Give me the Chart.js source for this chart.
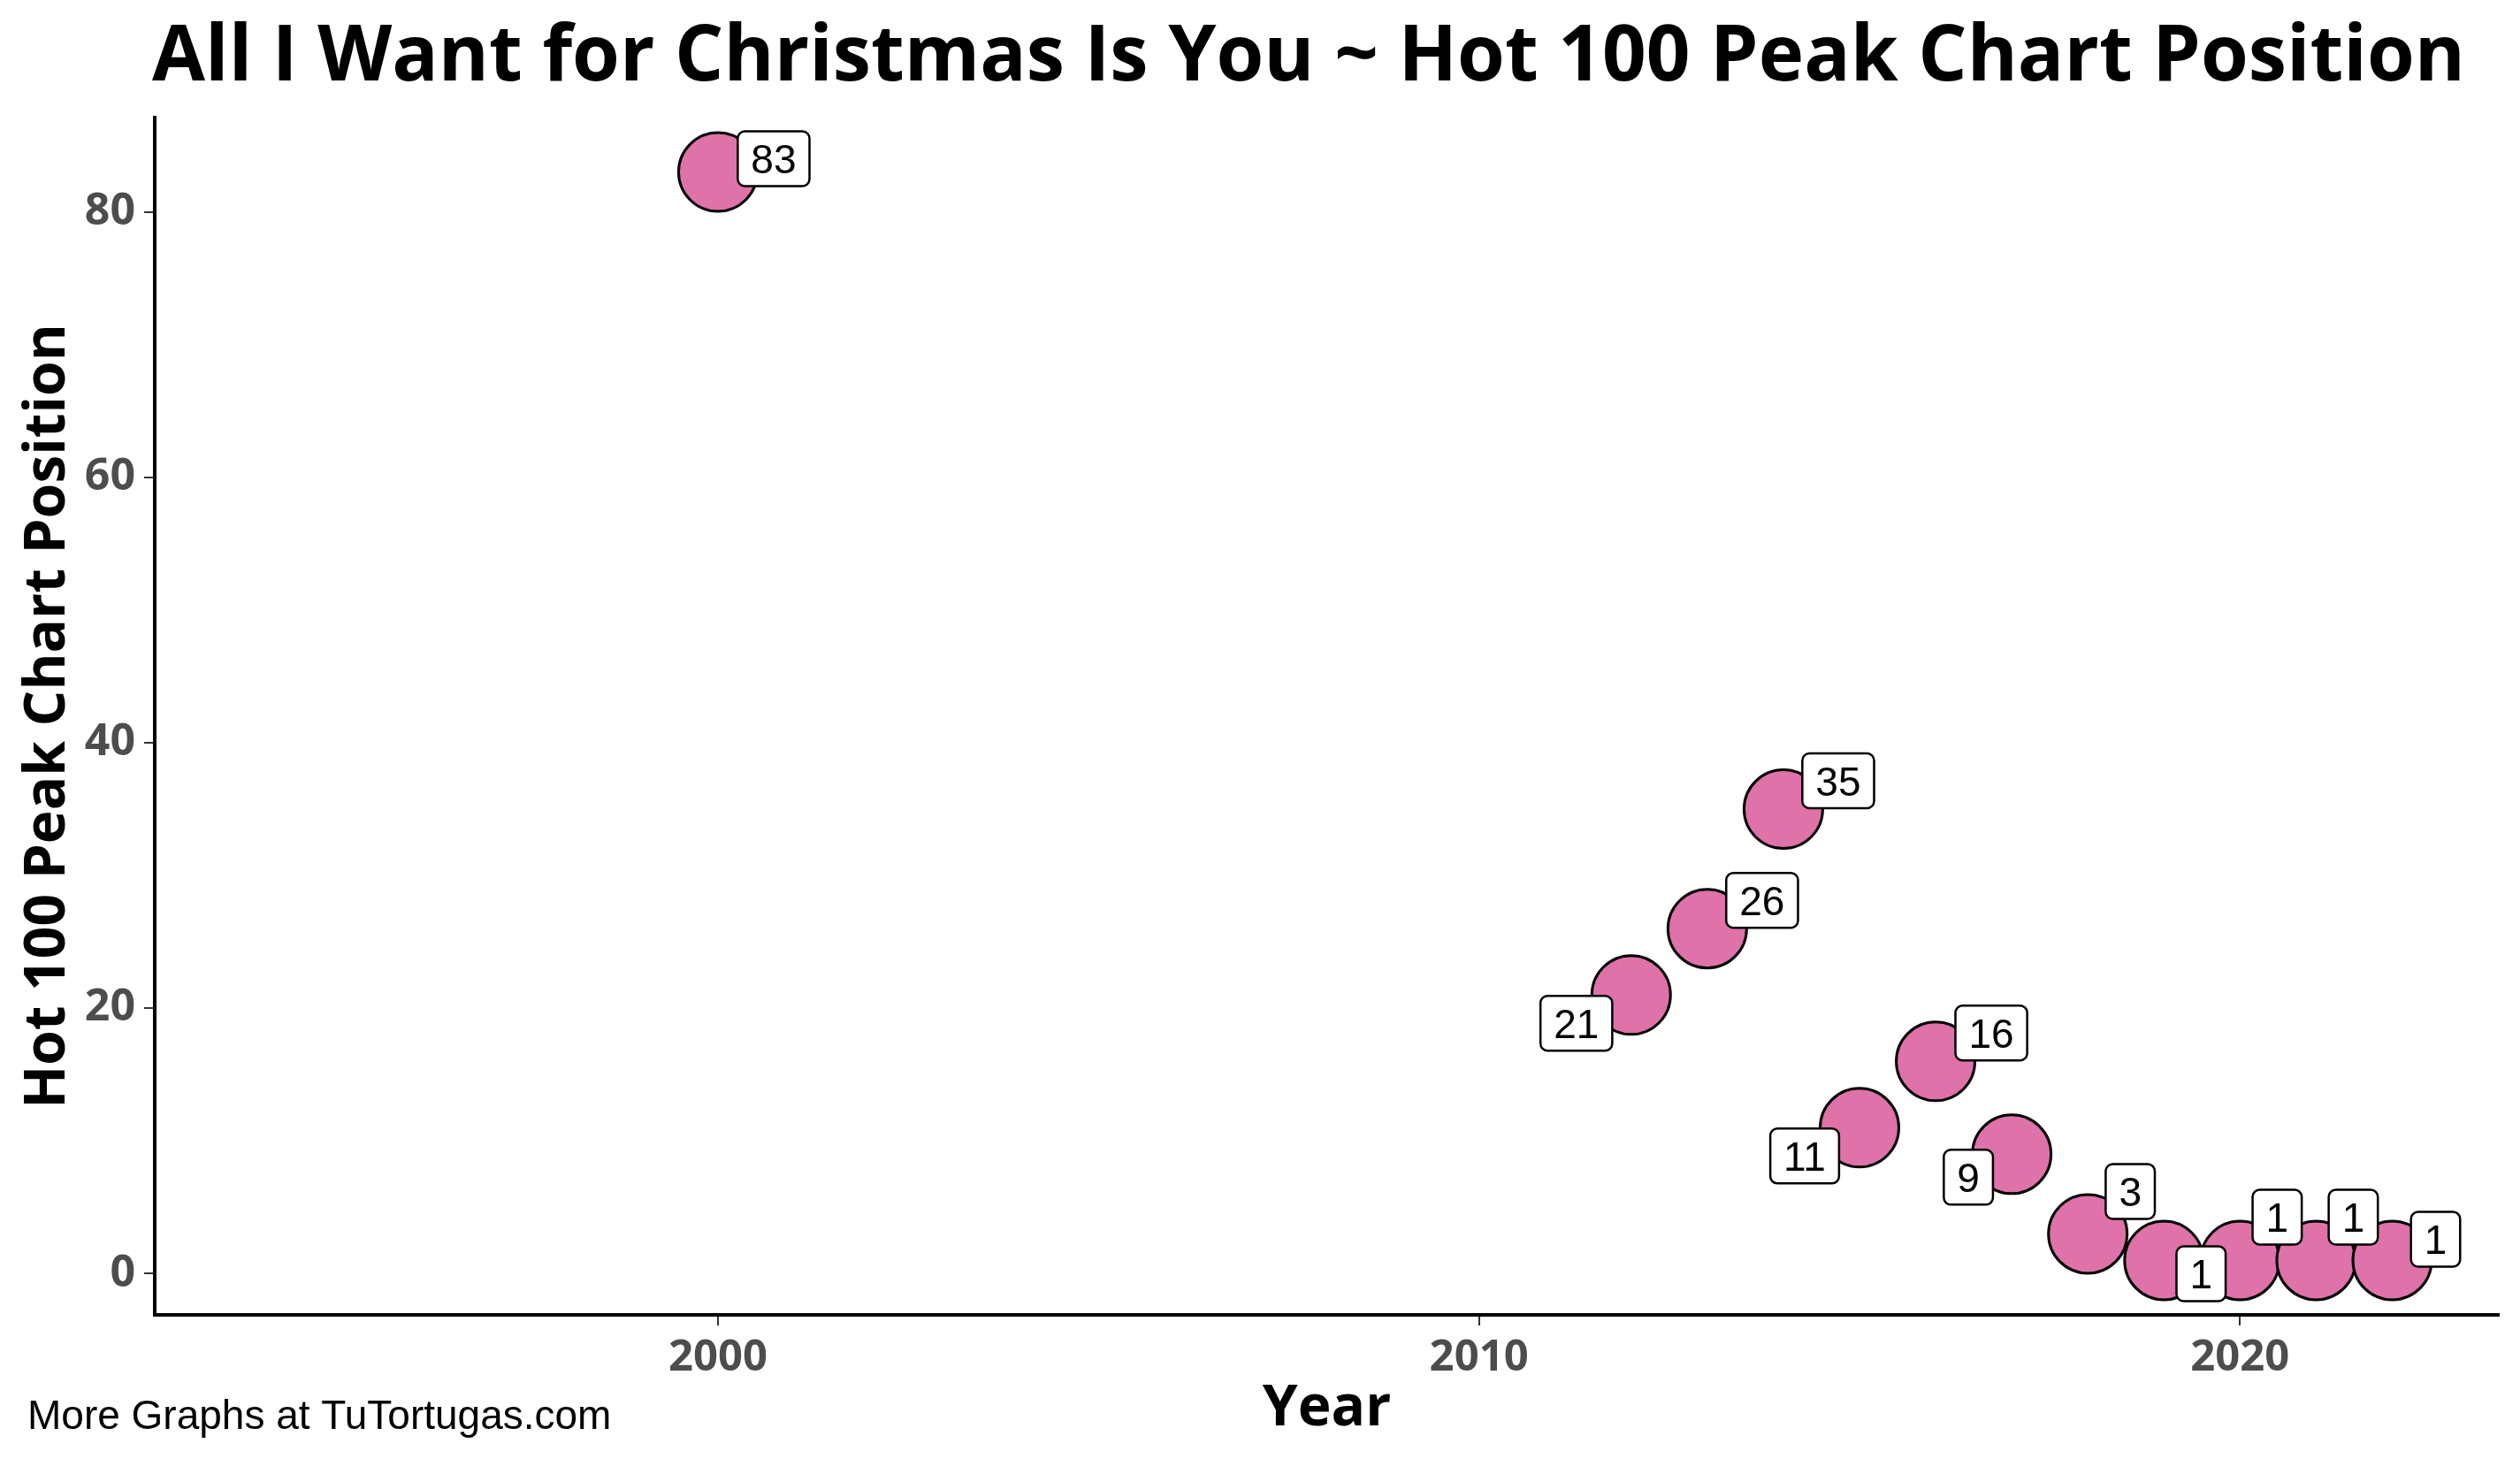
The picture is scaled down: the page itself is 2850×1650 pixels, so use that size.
<!DOCTYPE html>
<html>
<head>
<meta charset="utf-8">
<title>All I Want for Christmas Is You ~ Hot 100 Peak Chart Position</title>
<script src="https://cdn.jsdelivr.net/npm/chart.js@4/dist/chart.umd.min.js"></script>
<style>
  html, body { margin: 0; padding: 0; background: #fff; overflow: hidden; }
  canvas { display: block; }
</style>
</head>
<body>
<canvas id="myChart" width="2850" height="1650"></canvas>
<script>
// data
const years = [2000, 2012, 2013, 2014, 2015, 2016, 2017, 2018, 2019, 2020, 2021, 2022];
const peaks = [83, 21, 26, 35, 11, 16, 9, 3, 1, 1, 1, 1];
const xTicks = [2000, 2010, 2020];
const yTicks = [0, 20, 40, 60, 80];

// where the repelled labels sit, in px from their point
const labelNudge = [[63, -15], [-62, 32], [62, -32], [62, -32], [-62, 32], [63, -32],
                    [-49, 26], [48, -48], [42, 15], [42, -49], [42, -49], [49, -24]];

const headFont = '"Open Sans", "DejaVu Sans", sans-serif';

// labels with white boxes, drawn on top of the points
const labelBoxes = {
    id: 'labelBoxes',
    afterDatasetsDraw(chart) {
        const ctx = chart.ctx;
        const x = chart.scales.x, y = chart.scales.y;
        ctx.save();
        ctx.font = '46px "Liberation Sans", Arial, sans-serif';
        ctx.textAlign = 'center';
        ctx.textBaseline = 'alphabetic';
        peaks.forEach((v, i) => {
            const cx = x.getPixelForValue(years[i]) + labelNudge[i][0];
            const cy = y.getPixelForValue(v) + labelNudge[i][1];
            const txt = String(v);
            const w = ctx.measureText(txt).width + 30, h = 62;
            ctx.beginPath();
            ctx.roundRect(cx - w / 2, cy - h / 2, w, h, 8);
            ctx.fillStyle = '#ffffff';
            ctx.fill();
            ctx.lineWidth = 2.5;
            ctx.strokeStyle = '#000000';
            ctx.stroke();
            ctx.fillStyle = '#000000';
            ctx.fillText(txt, cx, cy + 16.5);
        });
        ctx.restore();
    }
};

// big title and the caption at the bottom left
const titles = {
    id: 'titles',
    afterDraw(chart) {
        const ctx = chart.ctx;
        ctx.save();
        ctx.fillStyle = '#000';
        ctx.textBaseline = 'alphabetic';
        ctx.textAlign = 'center';
        ctx.font = 'bold 87px ' + headFont;
        ctx.fillText('All I Want for Christmas Is You ~ Hot 100 Peak Chart Position', 1480, 91);
        ctx.textAlign = 'left';
        ctx.font = '46px "Liberation Sans", Arial, sans-serif';
        ctx.fillText('More Graphs at TuTortugas.com', 31, 1616);
        ctx.restore();
    }
};

const ctx = document.getElementById('myChart').getContext('2d');
const myChart = new Chart(ctx, {
    type: 'scatter',
    data: {
        datasets: [{
            label: 'Peak',
            data: years.map((yr, i) => ({ x: yr, y: peaks[i] })),
            backgroundColor: '#DE72A9',
            borderColor: '#000000',
            borderWidth: 3,
            pointRadius: 44.5,
            pointHoverRadius: 44.5
        }]
    },
    options: {
        responsive: false,
        animation: false,
        devicePixelRatio: 1,
        events: [],
        layout: { autoPadding: false, padding: { top: 133, right: 24, left: 0, bottom: 0 } },
        plugins: {
            legend: { display: false },
            tooltip: { enabled: false },
            title: { display: false }
        },
        scales: {
            x: {
                type: 'linear',
                min: 1992.6,
                max: 2023.4,
                afterBuildTicks: (s) => { s.ticks = xTicks.map(v => ({ value: v })); },
                afterFit: (s) => { s.height = 163; s.paddingLeft = 0; s.paddingRight = 0; },
                grid: { drawOnChartArea: false, drawTicks: true, tickLength: 12, color: '#333333', lineWidth: 2 },
                border: { display: true, color: '#000000', width: 4 },
                ticks: {
                    color: '#4D4D4D',
                    padding: 8,
                    font: { family: headFont, size: 49, weight: 'bold' },
                    callback: (v) => String(v)
                },
                title: {
                    display: true,
                    text: 'Year',
                    color: '#000',
                    padding: { top: 0, bottom: 18 },
                    font: { family: headFont, size: 64, weight: 'bold' }
                }
            },
            y: {
                type: 'linear',
                min: -3.1,
                max: 87.1,
                afterBuildTicks: (s) => { s.ticks = yTicks.map(v => ({ value: v })); },
                afterFit: (s) => { s.width = 175; s.paddingTop = 0; s.paddingBottom = 0; },
                grid: { drawOnChartArea: false, drawTicks: true, tickLength: 12, color: '#333333', lineWidth: 2 },
                border: { display: true, color: '#000000', width: 4 },
                ticks: {
                    color: '#4D4D4D',
                    padding: 10,
                    font: { family: headFont, size: 50, weight: 'bold' },
                    callback: (v) => String(v)
                },
                title: {
                    display: true,
                    text: 'Hot 100 Peak Chart Position',
                    color: '#000',
                    padding: { top: 16, bottom: 0 },
                    font: { family: headFont, size: 64, weight: 'bold' }
                }
            }
        }
    },
    plugins: [labelBoxes, titles]
});
</script>
</body>
</html>
